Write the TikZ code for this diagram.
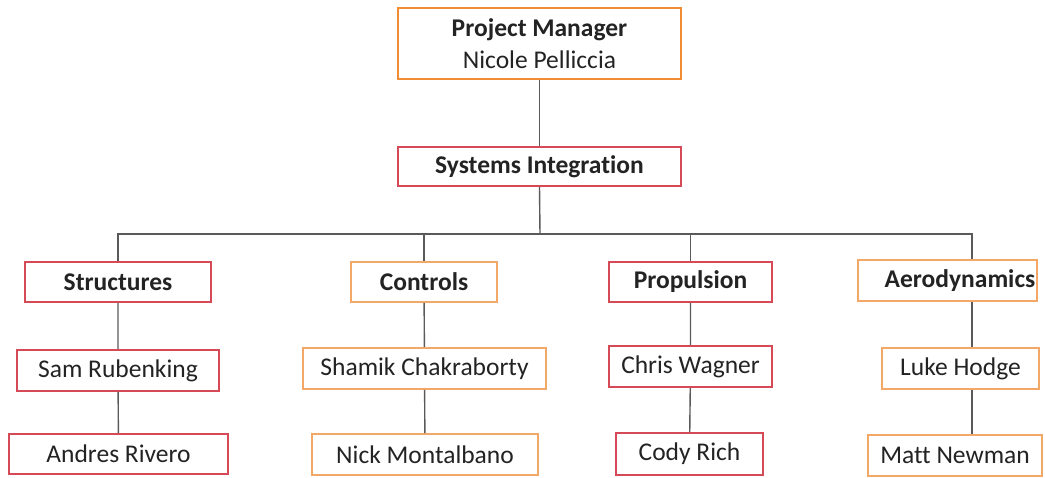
\documentclass[tikz,border=0pt]{standalone}
\usepackage{fontspec}
\setmainfont{Carlito}[Ligatures={NoCommon,NoRare}]
\definecolor{boxred}{RGB}{214,74,88}
\definecolor{boxorange}{RGB}{244,168,104}
\definecolor{pmorange}{RGB}{242,140,50}
\definecolor{linkgray}{RGB}{90,90,90}
\definecolor{txt}{RGB}{35,35,35}
\begin{document}
\begin{tikzpicture}[x=1pt,y=-1pt,
  box/.style={draw, line width=1.6pt, fill=white, inner sep=0pt, text=txt, font=\fontsize{25.5}{29}\selectfont},
  redbox/.style={box, draw=boxred},
  orangebox/.style={box, draw=boxorange},
  link/.style={draw=linkgray, line width=1.4pt}]
\useasboundingbox (0,0) rectangle (1045,477);
% helper: box by pixel corners
\newcommand{\orgbox}[6]{\node[#1, minimum width=#4-#2, minimum height=#5-#3] (#6) at ({(#2+#4)/2},{(#3+#5)/2})}
% top levels
\orgbox{box, draw=pmorange, line width=2pt, align=center}{398}{8}{681}{79}{pm}
  {\textbf{Project Manager}\\[3pt]Nicole Pelliccia};
\orgbox{redbox}{398}{147}{681}{186}{si}{\textbf{Systems Integration}};
% group heads
\orgbox{redbox}{25}{262}{211}{302}{st}{\textbf{Structures}};
\orgbox{orangebox}{351}{262}{497}{302}{co}{\textbf{Controls}};
\orgbox{redbox}{609}{262}{772}{302}{pr}{\textbf{Propulsion}};
\orgbox{orangebox}{858}{260}{1037}{301}{ae}{\hspace*{25pt}\textbf{Aerodynamics}};
% members
\orgbox{redbox}{17}{350}{219}{391}{st1}{Sam Rubenking};
\orgbox{redbox}{9}{434}{228}{474}{st2}{Andres Rivero};
\orgbox{orangebox}{303}{348}{546}{389}{co1}{Shamik Chakraborty};
\orgbox{orangebox}{312}{434}{538}{475}{co2}{Nick Montalbano};
\orgbox{redbox}{609}{346}{772}{387}{pr1}{Chris Wagner};
\orgbox{redbox}{616}{433}{763}{475}{pr2}{Cody Rich};
\orgbox{orangebox}{882}{348}{1039}{389}{ae1}{Luke Hodge};
\orgbox{orangebox}{868}{435}{1042}{476}{ae2}{Matt Newman};
% connectors
\coordinate (bus) at (540,234);
\coordinate (aebus) at (972,234);
\draw[link] (pm.south) -- (si.north);
\draw[link] (si.south) -- (bus);
\draw[link] (st.north) |- (aebus) -- (aebus |- ae.north);
\draw[link] (co.north) -- (co.north |- bus);
\draw[link] (pr.north) -- (pr.north |- bus);
\draw[link] (st) -- (st1) (st1) -- (st2);
\draw[link] (co) -- (co1) (co1) -- (co2);
\draw[link] (pr) -- (pr1) (pr1) -- (pr2);
\draw[link] (aebus |- ae.south) -- (aebus |- ae1.north);
\draw[link] (aebus |- ae1.south) -- (aebus |- ae2.north);
\end{tikzpicture}
\end{document}
